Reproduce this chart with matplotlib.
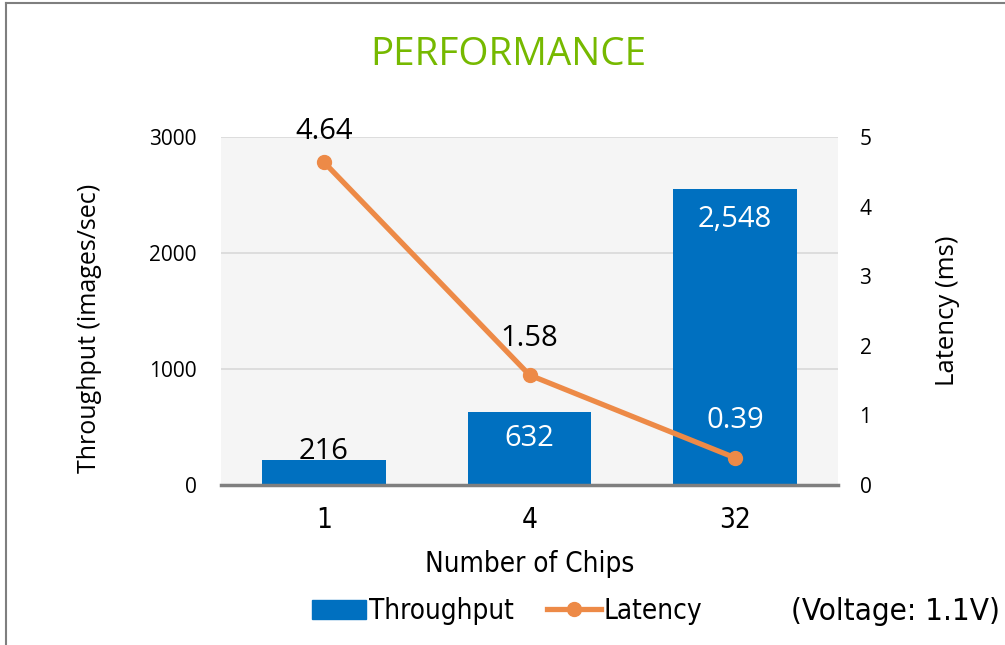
import matplotlib
matplotlib.use("Agg")
import matplotlib.pyplot as plt
from matplotlib.lines import Line2D
from matplotlib.patches import Patch
from matplotlib.font_manager import FontProperties
import numpy as np

categories = ["1", "4", "32"]
throughput = [216, 632, 2548]
latency = [4.64, 1.58, 0.39]
thr_labels = ["216", "632", "2,548"]
lat_labels = ["4.64", "1.58", "0.39"]

COND = dict(family="DejaVu Sans", stretch="condensed")
SANS = dict(family="Open Sans")
BLUE = "#0070C0"
ORANGE = "#ED8A47"

fig = plt.figure(figsize=(10.05, 6.45), dpi=100)
ax = fig.add_axes([221/1005, 1-485/645, (838-221)/1005, (485-137)/645])
ax.set_facecolor("#F5F5F5")
x = np.arange(len(categories))
ax.bar(x, throughput, width=0.6, color=BLUE, zorder=2)
ax.set_xlim(-0.5, 2.5)
ax.set_ylim(0, 3000)
ax.set_yticks([0, 1000, 2000, 3000])
ax.yaxis.grid(True, color="#D9D9D9", linewidth=1.2, zorder=0)
ax.set_axisbelow(True)
for s in ["top", "right", "left"]:
    ax.spines[s].set_visible(False)
ax.spines["bottom"].set_color("#7F7F7F")
ax.spines["bottom"].set_linewidth(2.5)
ax.spines["bottom"].set_zorder(3)
ax.tick_params(length=0)
ax.tick_params(axis="y", pad=17.5)
ax.tick_params(axis="x", pad=15)
ax.set_xticks(x)
ax.set_xticklabels(categories, fontproperties=FontProperties(size=20, **COND))
for lab in ax.get_yticklabels():
    lab.set_fontproperties(FontProperties(size=15, **SANS))
ax.set_xlabel("Number of Chips", fontproperties=FontProperties(size=20, **COND), labelpad=12)
ax.set_ylabel("Throughput (images/sec)", fontproperties=FontProperties(size=18, **SANS))
ax.yaxis.set_label_coords((102 - 221) / (838 - 221), (485 - 328) / (485 - 137))

lblfp = FontProperties(size=21, **SANS)
thr_off = [77, -227, -255]
thr_cols = ["black", "white", "white"]
for i in range(3):
    ax.text(x[i], throughput[i] + thr_off[i], thr_labels[i], ha="center", va="center",
            color=thr_cols[i], zorder=5, fontproperties=lblfp)

ax2 = ax.twinx()
ax2.set_ylim(0, 5)
ax2.set_yticks([0, 1, 2, 3, 4, 5])
for s in ax2.spines.values():
    s.set_visible(False)
ax2.tick_params(length=0, pad=15.5)
for lab in ax2.get_yticklabels():
    lab.set_fontproperties(FontProperties(size=15, **SANS))
ax2.plot(x, latency, color=ORANGE, linewidth=3.8, marker="o", markersize=10, zorder=4)
ax2.set_ylabel("Latency (ms)", fontproperties=FontProperties(size=18.5, **SANS), labelpad=46)
lat_off = [0.446, 0.53, 0.54]
lat_cols = ["black", "black", "white"]
for i in range(3):
    ax2.text(x[i], latency[i] + lat_off[i], lat_labels[i], ha="center", va="center",
             color=lat_cols[i], fontproperties=lblfp)

fig.text(508/1005, 1-65/645, "PERFORMANCE", ha="center", va="baseline", color="#76B900",
         fontproperties=FontProperties(size=27.8, **SANS))

handles = [Patch(color=BLUE), Line2D([0], [0], color=ORANGE, linewidth=3.8, marker="o", markersize=10)]
leg = fig.legend(handles, ["Throughput", "Latency"], loc="center", bbox_to_anchor=(507/1005, 1-611/645),
                 ncol=2, frameon=False, prop=FontProperties(size=20, **COND),
                 handlelength=1.95, handletextpad=0.1, columnspacing=1.2)
fig.text(1000/1005, 1-611/645, "(Voltage: 1.1V)", ha="right", va="center",
         fontproperties=FontProperties(size=22.5, **COND))

fig.add_artist(Line2D([6/1005, 6/1005], [0, 1-3/645], transform=fig.transFigure, color="#7F7F7F", linewidth=1.5))
fig.add_artist(Line2D([6/1005, 1], [1-3/645, 1-3/645], transform=fig.transFigure, color="#7F7F7F", linewidth=1.5))

fig.savefig("out.png", dpi=100)
